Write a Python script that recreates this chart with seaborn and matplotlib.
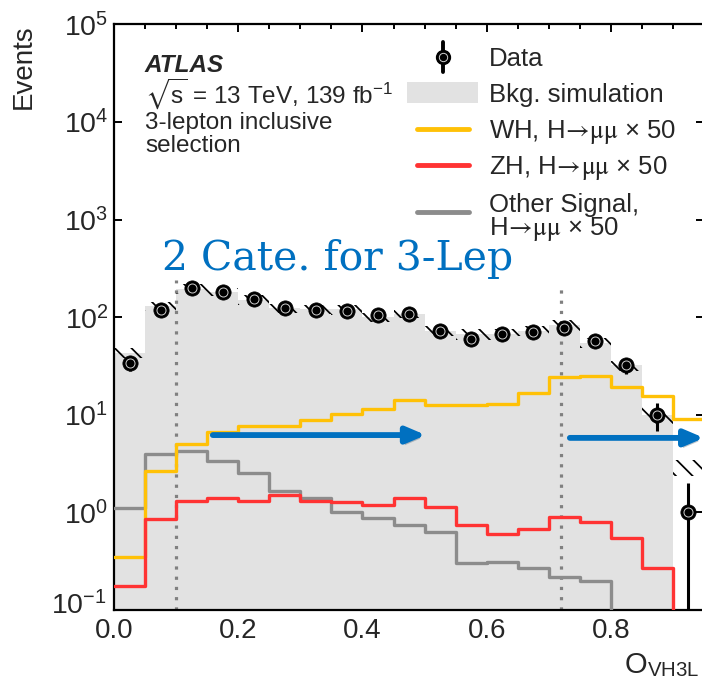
import numpy as np
import pandas as pd
import matplotlib
matplotlib.use("Agg")
import matplotlib.pyplot as plt
import seaborn as sns
from matplotlib.lines import Line2D
from matplotlib.patches import Rectangle
from matplotlib import patheffects as pe
from matplotlib import font_manager as fm
from matplotlib.ticker import FixedLocator, NullLocator, MultipleLocator, FormatStrFormatter, FuncFormatter

# ---------------- data ----------------
bin_edges = [0.00, 0.05, 0.10, 0.15, 0.20, 0.25, 0.30, 0.35, 0.40, 0.45,
             0.50, 0.55, 0.60, 0.65, 0.70, 0.75, 0.80, 0.85, 0.90, 0.95]
data_counts = [34, 118, 198, 180, 154, 123, 118, 117, 105, 107,
               72, 60, 68, 71, 78, 57, 32, 10, 1]
bkg = [43, 130, 195, 182, 150, 123, 121, 120, 100, 108,
       73, 67, 67, 73, 83, 55, 32, 10, 2.9]
bkg_rel_unc = [0.12, 0.10, 0.12, 0.10, 0.12, 0.10, 0.10, 0.12, 0.10, 0.10,
               0.12, 0.12, 0.12, 0.12, 0.14, 0.12, 0.12, 0.20, 0.19]
bkg_filled_bins = 18  # gray fill shown up to O = 0.9
wh = [0.35, 2.67, 5.0, 6.7, 7.7, 7.7, 8.9, 10.2, 11.5, 14.2,
      12.6, 12.6, 12.8, 16.6, 24.2, 25.0, 19.4, 15.7, 9.0]
zh = [0.177, 0.855, 1.32, 1.39, 1.30, 1.51, 1.31, 1.27, 1.19, 1.41,
      1.13, 0.74, 0.60, 0.68, 0.90, 0.80, 0.55, 0.267, 0.0]
other = [1.10, 3.96, 4.28, 3.36, 2.51, 1.67, 1.39, 1.02, 0.87, 0.74,
         0.63, 0.30, 0.31, 0.267, 0.22, 0.20, 0.0, 0.0, 0.0]
category_cuts = [0.10, 0.72]
cut_line_tops = [240, 205]
# arrows: (start, end, level)
arrow_specs = [(0.159, 0.502, 6.2), (0.734, 0.95, 5.8)]
y_ticks = [1e-1, 1e0, 1e1, 1e2, 1e3, 1e4, 1e5]

legend_labels = ["Data", "Bkg. simulation",
                 r"WH, H$\!\rightarrow\!\mathrm{\mu\mu}$ × 50",
                 r"ZH, H$\!\rightarrow\!\mathrm{\mu\mu}$ × 50",
                 "Other Signal,", r"H$\!\rightarrow\!\mathrm{\mu\mu}$ × 50"]

# ---------------- style ----------------
sns.set_theme(style="ticks")
names = {f.name for f in fm.fontManager.ttflist}
SANS = "Liberation Sans" if "Liberation Sans" in names else "DejaVu Sans"
NARROW = "Liberation Sans Narrow" if "Liberation Sans Narrow" in names else SANS
plt.rcParams["font.family"] = [SANS, "DejaVu Sans"]
plt.rcParams["mathtext.fontset"] = "stix"
plt.rcParams["hatch.linewidth"] = 1.25

GRAY_FILL = "#e2e2e2"
WH_C = "#FFC107"
ZH_C = "#FF3333"
OT_C = "#8c8c8c"
BLUE = "#0070C0"

W, H = 702, 678
fig = plt.figure(figsize=(W / 100, H / 100), dpi=100)
x0, x1, ytop, ybot = 114.1, 704.0, 24.4, 610.0
ax = fig.add_axes([x0 / W, 1 - ybot / H, (x1 - x0) / W, (ybot - ytop) / H])

edges = np.array(bin_edges)
centers = (edges[:-1] + edges[1:]) / 2
df = pd.DataFrame({"center": centers, "data": data_counts, "bkg": bkg,
                   "wh": wh, "zh": zh, "other": other})

# background fill
sns.histplot(data=df.iloc[:bkg_filled_bins], x="center", weights="bkg",
             bins=bin_edges[:bkg_filled_bins + 1], element="step", fill=True,
             color=GRAY_FILL, alpha=1, linewidth=0, ax=ax, zorder=1)

# uncertainty band
b = np.array(bkg, float)
u = np.array(bkg_rel_unc)
lo = np.append(b * (1 - u), b[-1] * (1 - u[-1]))
hi = np.append(b * (1 + u), b[-1] * (1 + u[-1]))
ax.fill_between(edges, lo, hi, step="post", facecolor="none", edgecolor="black",
                hatch="\\\\", linewidth=0, zorder=2)

# category cut lines
for c, t in zip(category_cuts, cut_line_tops):
    ax.plot([c, c], [0.1, t], color="#808080", lw=2.3, ls=(0, (1, 2.2)), zorder=2.5)

# signals
for col, colr in [("other", OT_C), ("wh", WH_C), ("zh", ZH_C)]:
    sns.histplot(data=df, x="center", weights=col, bins=bin_edges, element="step",
                 fill=False, color=colr, linewidth=2.4, ax=ax, zorder=3)

# data
ax.errorbar(centers, data_counts, yerr=np.sqrt(data_counts), fmt="none",
            ecolor="black", elinewidth=2.2, capsize=0, zorder=4)
sns.scatterplot(data=df, x="center", y="data", color="black", s=11 ** 2,
                edgecolor="black", linewidth=0.5, ax=ax, zorder=5)
ax.plot(centers, data_counts, ls="none", marker="o", ms=6.5, mfc="none",
        mec="#cfcfcf", mew=0.7, zorder=6)

# arrows
for xs, xe, lev in arrow_specs:
    ax.annotate("", xy=(xe, lev), xytext=(xs, lev), annotation_clip=False,
                arrowprops=dict(arrowstyle="-|>,head_length=0.75,head_width=0.32",
                                color=BLUE, lw=4.2, shrinkA=0, shrinkB=0,
                                mutation_scale=15,
                                path_effects=[pe.SimplePatchShadow(offset=(1.5, -2.5), alpha=0.25),
                                              pe.Normal()]),
                zorder=7)

# axes
ax.set_yscale("log")
ax.set_xlim(0, 0.95)
ax.set_ylim(0.1, 1e5)
ax.set_xlabel("")
ax.set_ylabel("")
ax.xaxis.set_major_locator(MultipleLocator(0.2))
ax.xaxis.set_minor_locator(MultipleLocator(0.05))
ax.xaxis.set_major_formatter(FormatStrFormatter("%.1f"))
ax.yaxis.set_major_locator(FixedLocator(y_ticks))
ax.yaxis.set_minor_locator(NullLocator())


def ylab(v, pos):
    e = int(round(np.log10(v)))
    if e < 0:
        return ""  # drawn separately below, slightly raised
    return r"$\mathdefault{10^{%d}}$" % e


ax.yaxis.set_major_formatter(FuncFormatter(ylab))
ax.tick_params(which="both", direction="in", top=True, right=True, width=1.4, color="black")
ax.tick_params(which="major", length=6)
ax.tick_params(which="minor", length=3.5)
ax.tick_params(axis="y", labelsize=20.5, pad=4)
ax.tick_params(axis="x", labelsize=20, pad=6)
for lab in ax.get_xticklabels():
    lab.set_fontfamily(NARROW)
for s in ax.spines.values():
    s.set_linewidth(1.6)
    s.set_color("black")
ax.set_facecolor("white")


def fx(px):
    return px / W


def fy(py):
    return 1 - py / H


fig.text(fx(107), fy(606), r"$\mathdefault{10^{-1}}$", ha="right", va="center", fontsize=20.5)

# axis titles
fig.text(fx(24), fy(24), "Events", rotation=90, ha="center", va="top", fontsize=20)
fig.text(fx(624), fy(673), r"O$_{\mathdefault{VH3L}}$", ha="left", va="baseline", fontsize=21)

# ATLAS labels
fig.text(fx(145), fy(72), "ATLAS", fontsize=17.5, fontweight="bold", fontstyle="italic", va="baseline")
fig.text(fx(145), fy(103), r"$\sqrt{\mathdefault{s}}$ = 13 TeV, 139 fb$^{\mathdefault{-1}}$",
         fontsize=17.5, va="baseline")
fig.text(fx(145), fy(129), "3-lepton inclusive", fontsize=17.5, va="baseline")
fig.text(fx(145), fy(152), "selection", fontsize=17.5, va="baseline")

# blue annotation text
fig.text(fx(162), fy(270), "2 Cate. for 3-Lep", fontsize=29.5, color=BLUE,
         family="DejaVu Serif", va="baseline")

# legend (manual)
fig.add_artist(Line2D([fx(443), fx(443)], [fy(42), fy(72)], color="black", lw=2.8))
fig.add_artist(Line2D([fx(443)], [fy(57)], marker="o", ms=10, color="black", ls="none"))
fig.add_artist(Line2D([fx(443)], [fy(57)], marker="o", ms=6, mfc="none", mec="#cfcfcf", mew=0.7, ls="none"))
fig.add_artist(Rectangle((fx(407), fy(103)), fx(478) - fx(407), fy(82) - fy(103),
                         transform=fig.transFigure, facecolor=GRAY_FILL, edgecolor="none"))
for yy, colr in [(129, WH_C), (165, ZH_C), (212, OT_C)]:
    fig.add_artist(Line2D([fx(417), fx(469)], [fy(yy), fy(yy)], color=colr, lw=3.5))
for lab, yb in zip(legend_labels, [66, 102, 138, 174, 212, 235]):
    fig.text(fx(489), fy(yb), lab, fontsize=18.5, va="baseline")

fig.savefig("out.png", dpi=100)
